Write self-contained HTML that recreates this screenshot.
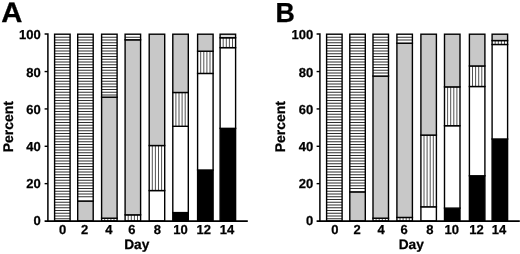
<!DOCTYPE html>
<html><head><meta charset="utf-8"><title>Figure</title>
<style>
html,body{margin:0;padding:0;background:#fff}
svg{display:block}
text{text-rendering:geometricPrecision}
.t{font-family:"Liberation Sans",Arial,Helvetica,sans-serif;font-weight:bold;font-size:13px;fill:#000;stroke:#000;stroke-width:0.25px}
.l{font-size:14px}
.d{font-size:13.7px}
.p{font-family:"Liberation Sans",Arial,Helvetica,sans-serif;font-weight:bold;font-size:28px;fill:#000;stroke:#000;stroke-width:0.3px}
</style></head>
<body>
<svg width="520" height="254" viewBox="0 0 520 254">
<defs><filter id="bl" filterUnits="userSpaceOnUse" x="0" y="0" width="520" height="254"><feGaussianBlur stdDeviation="0 0.28"/></filter></defs>
<rect width="520" height="254" fill="#fff"/>
<g transform="translate(0,0)">
<rect x="54.60" y="34.20" width="15.50" height="186.80" fill="#fff"/>
<path d="M54.60 37.25H70.10M54.60 40.00H70.10M54.60 42.75H70.10M54.60 45.50H70.10M54.60 48.25H70.10M54.60 51.00H70.10M54.60 53.75H70.10M54.60 56.50H70.10M54.60 59.25H70.10M54.60 62.00H70.10M54.60 64.75H70.10M54.60 67.50H70.10M54.60 70.25H70.10M54.60 73.00H70.10M54.60 75.75H70.10M54.60 78.50H70.10M54.60 81.25H70.10M54.60 84.00H70.10M54.60 86.75H70.10M54.60 89.50H70.10M54.60 92.25H70.10M54.60 95.00H70.10M54.60 97.75H70.10M54.60 100.50H70.10M54.60 103.25H70.10M54.60 106.00H70.10M54.60 108.75H70.10M54.60 111.50H70.10M54.60 114.25H70.10M54.60 117.00H70.10M54.60 119.75H70.10M54.60 122.50H70.10M54.60 125.25H70.10M54.60 128.00H70.10M54.60 130.75H70.10M54.60 133.50H70.10M54.60 136.25H70.10M54.60 139.00H70.10M54.60 141.75H70.10M54.60 144.50H70.10M54.60 147.25H70.10M54.60 150.00H70.10M54.60 152.75H70.10M54.60 155.50H70.10M54.60 158.25H70.10M54.60 161.00H70.10M54.60 163.75H70.10M54.60 166.50H70.10M54.60 169.25H70.10M54.60 172.00H70.10M54.60 174.75H70.10M54.60 177.50H70.10M54.60 180.25H70.10M54.60 183.00H70.10M54.60 185.75H70.10M54.60 188.50H70.10M54.60 191.25H70.10M54.60 194.00H70.10M54.60 196.75H70.10M54.60 199.50H70.10M54.60 202.25H70.10M54.60 205.00H70.10M54.60 207.75H70.10M54.60 210.50H70.10M54.60 213.25H70.10M54.60 216.00H70.10M54.60 218.75H70.10" stroke="#000" stroke-width="0.82" fill="none" filter="url(#bl)"/>
<rect x="54.60" y="34.20" width="15.50" height="186.80" fill="none" stroke="#000" stroke-width="1.4"/>
<rect x="77.70" y="201.01" width="15.50" height="19.99" fill="#c8c8c8"/>
<rect x="77.70" y="201.01" width="15.50" height="19.99" fill="none" stroke="#000" stroke-width="1.4"/>
<rect x="77.70" y="34.20" width="15.50" height="166.81" fill="#fff"/>
<path d="M77.70 37.25H93.20M77.70 40.00H93.20M77.70 42.75H93.20M77.70 45.50H93.20M77.70 48.25H93.20M77.70 51.00H93.20M77.70 53.75H93.20M77.70 56.50H93.20M77.70 59.25H93.20M77.70 62.00H93.20M77.70 64.75H93.20M77.70 67.50H93.20M77.70 70.25H93.20M77.70 73.00H93.20M77.70 75.75H93.20M77.70 78.50H93.20M77.70 81.25H93.20M77.70 84.00H93.20M77.70 86.75H93.20M77.70 89.50H93.20M77.70 92.25H93.20M77.70 95.00H93.20M77.70 97.75H93.20M77.70 100.50H93.20M77.70 103.25H93.20M77.70 106.00H93.20M77.70 108.75H93.20M77.70 111.50H93.20M77.70 114.25H93.20M77.70 117.00H93.20M77.70 119.75H93.20M77.70 122.50H93.20M77.70 125.25H93.20M77.70 128.00H93.20M77.70 130.75H93.20M77.70 133.50H93.20M77.70 136.25H93.20M77.70 139.00H93.20M77.70 141.75H93.20M77.70 144.50H93.20M77.70 147.25H93.20M77.70 150.00H93.20M77.70 152.75H93.20M77.70 155.50H93.20M77.70 158.25H93.20M77.70 161.00H93.20M77.70 163.75H93.20M77.70 166.50H93.20M77.70 169.25H93.20M77.70 172.00H93.20M77.70 174.75H93.20M77.70 177.50H93.20M77.70 180.25H93.20M77.70 183.00H93.20M77.70 185.75H93.20M77.70 188.50H93.20M77.70 191.25H93.20M77.70 194.00H93.20M77.70 196.75H93.20" stroke="#000" stroke-width="0.82" fill="none" filter="url(#bl)"/>
<rect x="77.70" y="34.20" width="15.50" height="166.81" fill="none" stroke="#000" stroke-width="1.4"/>
<rect x="101.60" y="218.20" width="15.50" height="2.80" fill="#fff"/>
<path d="M104.70 218.20V221.00M107.80 218.20V221.00M110.90 218.20V221.00M114.00 218.20V221.00" stroke="#000" stroke-width="0.68" fill="none"/>
<rect x="101.60" y="218.20" width="15.50" height="2.80" fill="none" stroke="#000" stroke-width="1.4"/>
<rect x="101.60" y="97.15" width="15.50" height="121.05" fill="#c8c8c8"/>
<rect x="101.60" y="97.15" width="15.50" height="121.05" fill="none" stroke="#000" stroke-width="1.4"/>
<rect x="101.60" y="34.20" width="15.50" height="62.95" fill="#fff"/>
<path d="M101.60 37.25H117.10M101.60 40.00H117.10M101.60 42.75H117.10M101.60 45.50H117.10M101.60 48.25H117.10M101.60 51.00H117.10M101.60 53.75H117.10M101.60 56.50H117.10M101.60 59.25H117.10M101.60 62.00H117.10M101.60 64.75H117.10M101.60 67.50H117.10M101.60 70.25H117.10M101.60 73.00H117.10M101.60 75.75H117.10M101.60 78.50H117.10M101.60 81.25H117.10M101.60 84.00H117.10M101.60 86.75H117.10M101.60 89.50H117.10M101.60 92.25H117.10M101.60 95.00H117.10" stroke="#000" stroke-width="0.82" fill="none" filter="url(#bl)"/>
<rect x="101.60" y="34.20" width="15.50" height="62.95" fill="none" stroke="#000" stroke-width="1.4"/>
<rect x="125.10" y="214.84" width="15.50" height="6.16" fill="#fff"/>
<path d="M128.20 214.84V221.00M131.30 214.84V221.00M134.40 214.84V221.00M137.50 214.84V221.00" stroke="#000" stroke-width="0.68" fill="none"/>
<rect x="125.10" y="214.84" width="15.50" height="6.16" fill="none" stroke="#000" stroke-width="1.4"/>
<rect x="125.10" y="39.80" width="15.50" height="175.03" fill="#c8c8c8"/>
<rect x="125.10" y="39.80" width="15.50" height="175.03" fill="none" stroke="#000" stroke-width="1.4"/>
<rect x="125.10" y="34.20" width="15.50" height="5.60" fill="#fff"/>
<path d="M125.10 37.25H140.60" stroke="#000" stroke-width="0.82" fill="none" filter="url(#bl)"/>
<rect x="125.10" y="34.20" width="15.50" height="5.60" fill="none" stroke="#000" stroke-width="1.4"/>
<rect x="149.20" y="190.55" width="15.50" height="30.45" fill="#fff"/>
<rect x="149.20" y="190.55" width="15.50" height="30.45" fill="none" stroke="#000" stroke-width="1.4"/>
<rect x="149.20" y="145.53" width="15.50" height="45.02" fill="#fff"/>
<path d="M152.30 145.53V190.55M155.40 145.53V190.55M158.50 145.53V190.55M161.60 145.53V190.55" stroke="#000" stroke-width="0.68" fill="none"/>
<rect x="149.20" y="145.53" width="15.50" height="45.02" fill="none" stroke="#000" stroke-width="1.4"/>
<rect x="149.20" y="34.20" width="15.50" height="111.33" fill="#c8c8c8"/>
<rect x="149.20" y="34.20" width="15.50" height="111.33" fill="none" stroke="#000" stroke-width="1.4"/>
<rect x="172.80" y="212.59" width="15.50" height="8.41" fill="#000"/>
<rect x="172.80" y="212.59" width="15.50" height="8.41" fill="none" stroke="#000" stroke-width="1.4"/>
<rect x="172.80" y="126.29" width="15.50" height="86.30" fill="#fff"/>
<rect x="172.80" y="126.29" width="15.50" height="86.30" fill="none" stroke="#000" stroke-width="1.4"/>
<rect x="172.80" y="92.48" width="15.50" height="33.81" fill="#fff"/>
<path d="M175.90 92.48V126.29M179.00 92.48V126.29M182.10 92.48V126.29M185.20 92.48V126.29" stroke="#000" stroke-width="0.68" fill="none"/>
<rect x="172.80" y="92.48" width="15.50" height="33.81" fill="none" stroke="#000" stroke-width="1.4"/>
<rect x="172.80" y="34.20" width="15.50" height="58.28" fill="#c8c8c8"/>
<rect x="172.80" y="34.20" width="15.50" height="58.28" fill="none" stroke="#000" stroke-width="1.4"/>
<rect x="197.60" y="170.00" width="15.50" height="51.00" fill="#000"/>
<rect x="197.60" y="170.00" width="15.50" height="51.00" fill="none" stroke="#000" stroke-width="1.4"/>
<rect x="197.60" y="73.43" width="15.50" height="96.58" fill="#fff"/>
<rect x="197.60" y="73.43" width="15.50" height="96.58" fill="none" stroke="#000" stroke-width="1.4"/>
<rect x="197.60" y="51.20" width="15.50" height="22.23" fill="#fff"/>
<path d="M200.70 51.20V73.43M203.80 51.20V73.43M206.90 51.20V73.43M210.00 51.20V73.43" stroke="#000" stroke-width="0.68" fill="none"/>
<rect x="197.60" y="51.20" width="15.50" height="22.23" fill="none" stroke="#000" stroke-width="1.4"/>
<rect x="197.60" y="34.20" width="15.50" height="17.00" fill="#c8c8c8"/>
<rect x="197.60" y="34.20" width="15.50" height="17.00" fill="none" stroke="#000" stroke-width="1.4"/>
<rect x="220.10" y="128.35" width="15.50" height="92.65" fill="#000"/>
<rect x="220.10" y="128.35" width="15.50" height="92.65" fill="none" stroke="#000" stroke-width="1.4"/>
<rect x="220.10" y="47.65" width="15.50" height="80.70" fill="#fff"/>
<rect x="220.10" y="47.65" width="15.50" height="80.70" fill="none" stroke="#000" stroke-width="1.4"/>
<rect x="220.10" y="37.75" width="15.50" height="9.90" fill="#fff"/>
<path d="M223.20 37.75V47.65M226.30 37.75V47.65M229.40 37.75V47.65M232.50 37.75V47.65" stroke="#000" stroke-width="0.68" fill="none"/>
<rect x="220.10" y="37.75" width="15.50" height="9.90" fill="none" stroke="#000" stroke-width="1.4"/>
<rect x="220.10" y="34.20" width="15.50" height="3.55" fill="#dcdcdc"/>
<rect x="220.10" y="34.20" width="15.50" height="3.55" fill="none" stroke="#000" stroke-width="1.4"/>
<path d="M44.6 34.00H47.9V221.00" fill="none" stroke="#000" stroke-width="1.5"/>
<path d="M44.6 221.10H247.8" fill="none" stroke="#000" stroke-width="1.6"/>
<path d="M44.6 183.64H47.9" stroke="#000" stroke-width="1.4"/>
<path d="M44.6 146.28H47.9" stroke="#000" stroke-width="1.4"/>
<path d="M44.6 108.92H47.9" stroke="#000" stroke-width="1.4"/>
<path d="M44.6 71.56H47.9" stroke="#000" stroke-width="1.4"/>
<text x="40.7" y="225.0" text-anchor="end" class="t">0</text>
<text x="40.7" y="187.8" text-anchor="end" class="t">20</text>
<text x="40.7" y="150.8" text-anchor="end" class="t">40</text>
<text x="40.7" y="113.6" text-anchor="end" class="t">60</text>
<text x="40.7" y="76.6" text-anchor="end" class="t">80</text>
<text x="40.7" y="38.8" text-anchor="end" class="t">100</text>
<text x="62.55" y="233.5" text-anchor="middle" class="t">0</text>
<text x="84.70" y="233.5" text-anchor="middle" class="t">2</text>
<text x="108.85" y="233.5" text-anchor="middle" class="t">4</text>
<text x="131.80" y="233.5" text-anchor="middle" class="t">6</text>
<text x="157.35" y="233.5" text-anchor="middle" class="t">8</text>
<text x="180.60" y="233.5" text-anchor="middle" class="t">10</text>
<text x="203.65" y="233.5" text-anchor="middle" class="t">12</text>
<text x="226.90" y="233.5" text-anchor="middle" class="t">14</text>
<text x="136.8" y="248.9" text-anchor="middle" class="t l d">Day</text>
<text transform="translate(12.5,126.70) rotate(-90)" text-anchor="middle" class="t l">Percent</text>
<text transform="translate(1.2,21.8) scale(1.045,1)" class="p">A</text>
</g>
<g transform="translate(272,0)">
<rect x="54.60" y="34.20" width="15.50" height="186.80" fill="#fff"/>
<path d="M54.60 37.25H70.10M54.60 40.00H70.10M54.60 42.75H70.10M54.60 45.50H70.10M54.60 48.25H70.10M54.60 51.00H70.10M54.60 53.75H70.10M54.60 56.50H70.10M54.60 59.25H70.10M54.60 62.00H70.10M54.60 64.75H70.10M54.60 67.50H70.10M54.60 70.25H70.10M54.60 73.00H70.10M54.60 75.75H70.10M54.60 78.50H70.10M54.60 81.25H70.10M54.60 84.00H70.10M54.60 86.75H70.10M54.60 89.50H70.10M54.60 92.25H70.10M54.60 95.00H70.10M54.60 97.75H70.10M54.60 100.50H70.10M54.60 103.25H70.10M54.60 106.00H70.10M54.60 108.75H70.10M54.60 111.50H70.10M54.60 114.25H70.10M54.60 117.00H70.10M54.60 119.75H70.10M54.60 122.50H70.10M54.60 125.25H70.10M54.60 128.00H70.10M54.60 130.75H70.10M54.60 133.50H70.10M54.60 136.25H70.10M54.60 139.00H70.10M54.60 141.75H70.10M54.60 144.50H70.10M54.60 147.25H70.10M54.60 150.00H70.10M54.60 152.75H70.10M54.60 155.50H70.10M54.60 158.25H70.10M54.60 161.00H70.10M54.60 163.75H70.10M54.60 166.50H70.10M54.60 169.25H70.10M54.60 172.00H70.10M54.60 174.75H70.10M54.60 177.50H70.10M54.60 180.25H70.10M54.60 183.00H70.10M54.60 185.75H70.10M54.60 188.50H70.10M54.60 191.25H70.10M54.60 194.00H70.10M54.60 196.75H70.10M54.60 199.50H70.10M54.60 202.25H70.10M54.60 205.00H70.10M54.60 207.75H70.10M54.60 210.50H70.10M54.60 213.25H70.10M54.60 216.00H70.10M54.60 218.75H70.10" stroke="#000" stroke-width="0.82" fill="none" filter="url(#bl)"/>
<rect x="54.60" y="34.20" width="15.50" height="186.80" fill="none" stroke="#000" stroke-width="1.4"/>
<rect x="77.80" y="191.86" width="15.50" height="29.14" fill="#c8c8c8"/>
<rect x="77.80" y="191.86" width="15.50" height="29.14" fill="none" stroke="#000" stroke-width="1.4"/>
<rect x="77.80" y="34.20" width="15.50" height="157.66" fill="#fff"/>
<path d="M77.80 37.25H93.30M77.80 40.00H93.30M77.80 42.75H93.30M77.80 45.50H93.30M77.80 48.25H93.30M77.80 51.00H93.30M77.80 53.75H93.30M77.80 56.50H93.30M77.80 59.25H93.30M77.80 62.00H93.30M77.80 64.75H93.30M77.80 67.50H93.30M77.80 70.25H93.30M77.80 73.00H93.30M77.80 75.75H93.30M77.80 78.50H93.30M77.80 81.25H93.30M77.80 84.00H93.30M77.80 86.75H93.30M77.80 89.50H93.30M77.80 92.25H93.30M77.80 95.00H93.30M77.80 97.75H93.30M77.80 100.50H93.30M77.80 103.25H93.30M77.80 106.00H93.30M77.80 108.75H93.30M77.80 111.50H93.30M77.80 114.25H93.30M77.80 117.00H93.30M77.80 119.75H93.30M77.80 122.50H93.30M77.80 125.25H93.30M77.80 128.00H93.30M77.80 130.75H93.30M77.80 133.50H93.30M77.80 136.25H93.30M77.80 139.00H93.30M77.80 141.75H93.30M77.80 144.50H93.30M77.80 147.25H93.30M77.80 150.00H93.30M77.80 152.75H93.30M77.80 155.50H93.30M77.80 158.25H93.30M77.80 161.00H93.30M77.80 163.75H93.30M77.80 166.50H93.30M77.80 169.25H93.30M77.80 172.00H93.30M77.80 174.75H93.30M77.80 177.50H93.30M77.80 180.25H93.30M77.80 183.00H93.30M77.80 185.75H93.30M77.80 188.50H93.30" stroke="#000" stroke-width="0.82" fill="none" filter="url(#bl)"/>
<rect x="77.80" y="34.20" width="15.50" height="157.66" fill="none" stroke="#000" stroke-width="1.4"/>
<rect x="101.00" y="218.20" width="15.50" height="2.80" fill="#fff"/>
<path d="M104.10 218.20V221.00M107.20 218.20V221.00M110.30 218.20V221.00M113.40 218.20V221.00" stroke="#000" stroke-width="0.68" fill="none"/>
<rect x="101.00" y="218.20" width="15.50" height="2.80" fill="none" stroke="#000" stroke-width="1.4"/>
<rect x="101.00" y="76.04" width="15.50" height="142.15" fill="#c8c8c8"/>
<rect x="101.00" y="76.04" width="15.50" height="142.15" fill="none" stroke="#000" stroke-width="1.4"/>
<rect x="101.00" y="34.20" width="15.50" height="41.84" fill="#fff"/>
<path d="M101.00 37.25H116.50M101.00 40.00H116.50M101.00 42.75H116.50M101.00 45.50H116.50M101.00 48.25H116.50M101.00 51.00H116.50M101.00 53.75H116.50M101.00 56.50H116.50M101.00 59.25H116.50M101.00 62.00H116.50M101.00 64.75H116.50M101.00 67.50H116.50M101.00 70.25H116.50M101.00 73.00H116.50" stroke="#000" stroke-width="0.82" fill="none" filter="url(#bl)"/>
<rect x="101.00" y="34.20" width="15.50" height="41.84" fill="none" stroke="#000" stroke-width="1.4"/>
<rect x="124.90" y="217.45" width="15.50" height="3.55" fill="#fff"/>
<path d="M128.00 217.45V221.00M131.10 217.45V221.00M134.20 217.45V221.00M137.30 217.45V221.00" stroke="#000" stroke-width="0.68" fill="none"/>
<rect x="124.90" y="217.45" width="15.50" height="3.55" fill="none" stroke="#000" stroke-width="1.4"/>
<rect x="124.90" y="43.17" width="15.50" height="174.28" fill="#c8c8c8"/>
<rect x="124.90" y="43.17" width="15.50" height="174.28" fill="none" stroke="#000" stroke-width="1.4"/>
<rect x="124.90" y="34.20" width="15.50" height="8.97" fill="#fff"/>
<path d="M124.90 37.25H140.40M124.90 40.00H140.40" stroke="#000" stroke-width="0.82" fill="none" filter="url(#bl)"/>
<rect x="124.90" y="34.20" width="15.50" height="8.97" fill="none" stroke="#000" stroke-width="1.4"/>
<rect x="148.90" y="206.80" width="15.50" height="14.20" fill="#fff"/>
<rect x="148.90" y="206.80" width="15.50" height="14.20" fill="none" stroke="#000" stroke-width="1.4"/>
<rect x="148.90" y="135.07" width="15.50" height="71.73" fill="#fff"/>
<path d="M152.00 135.07V206.80M155.10 135.07V206.80M158.20 135.07V206.80M161.30 135.07V206.80" stroke="#000" stroke-width="0.68" fill="none"/>
<rect x="148.90" y="135.07" width="15.50" height="71.73" fill="none" stroke="#000" stroke-width="1.4"/>
<rect x="148.90" y="34.20" width="15.50" height="100.87" fill="#c8c8c8"/>
<rect x="148.90" y="34.20" width="15.50" height="100.87" fill="none" stroke="#000" stroke-width="1.4"/>
<rect x="172.50" y="208.11" width="15.50" height="12.89" fill="#000"/>
<rect x="172.50" y="208.11" width="15.50" height="12.89" fill="none" stroke="#000" stroke-width="1.4"/>
<rect x="172.50" y="125.73" width="15.50" height="82.38" fill="#fff"/>
<rect x="172.50" y="125.73" width="15.50" height="82.38" fill="none" stroke="#000" stroke-width="1.4"/>
<rect x="172.50" y="86.88" width="15.50" height="38.85" fill="#fff"/>
<path d="M175.60 86.88V125.73M178.70 86.88V125.73M181.80 86.88V125.73M184.90 86.88V125.73" stroke="#000" stroke-width="0.68" fill="none"/>
<rect x="172.50" y="86.88" width="15.50" height="38.85" fill="none" stroke="#000" stroke-width="1.4"/>
<rect x="172.50" y="34.20" width="15.50" height="52.68" fill="#c8c8c8"/>
<rect x="172.50" y="34.20" width="15.50" height="52.68" fill="none" stroke="#000" stroke-width="1.4"/>
<rect x="197.40" y="175.79" width="15.50" height="45.21" fill="#000"/>
<rect x="197.40" y="175.79" width="15.50" height="45.21" fill="none" stroke="#000" stroke-width="1.4"/>
<rect x="197.40" y="86.50" width="15.50" height="89.29" fill="#fff"/>
<rect x="197.40" y="86.50" width="15.50" height="89.29" fill="none" stroke="#000" stroke-width="1.4"/>
<rect x="197.40" y="65.96" width="15.50" height="20.55" fill="#fff"/>
<path d="M200.50 65.96V86.50M203.60 65.96V86.50M206.70 65.96V86.50M209.80 65.96V86.50" stroke="#000" stroke-width="0.68" fill="none"/>
<rect x="197.40" y="65.96" width="15.50" height="20.55" fill="none" stroke="#000" stroke-width="1.4"/>
<rect x="197.40" y="34.20" width="15.50" height="31.76" fill="#c8c8c8"/>
<rect x="197.40" y="34.20" width="15.50" height="31.76" fill="none" stroke="#000" stroke-width="1.4"/>
<rect x="220.10" y="138.99" width="15.50" height="82.01" fill="#000"/>
<rect x="220.10" y="138.99" width="15.50" height="82.01" fill="none" stroke="#000" stroke-width="1.4"/>
<rect x="220.10" y="44.47" width="15.50" height="94.52" fill="#fff"/>
<rect x="220.10" y="44.47" width="15.50" height="94.52" fill="none" stroke="#000" stroke-width="1.4"/>
<rect x="220.10" y="40.55" width="15.50" height="3.92" fill="#fff"/>
<path d="M223.20 40.55V44.47M226.30 40.55V44.47M229.40 40.55V44.47M232.50 40.55V44.47" stroke="#000" stroke-width="0.68" fill="none"/>
<rect x="220.10" y="40.55" width="15.50" height="3.92" fill="none" stroke="#000" stroke-width="1.4"/>
<rect x="220.10" y="34.20" width="15.50" height="6.35" fill="#c8c8c8"/>
<rect x="220.10" y="34.20" width="15.50" height="6.35" fill="none" stroke="#000" stroke-width="1.4"/>
<path d="M44.6 34.00H47.9V221.00" fill="none" stroke="#000" stroke-width="1.5"/>
<path d="M44.6 221.10H247.8" fill="none" stroke="#000" stroke-width="1.6"/>
<path d="M44.6 183.64H47.9" stroke="#000" stroke-width="1.4"/>
<path d="M44.6 146.28H47.9" stroke="#000" stroke-width="1.4"/>
<path d="M44.6 108.92H47.9" stroke="#000" stroke-width="1.4"/>
<path d="M44.6 71.56H47.9" stroke="#000" stroke-width="1.4"/>
<text x="41.2" y="225.0" text-anchor="end" class="t">0</text>
<text x="41.2" y="187.8" text-anchor="end" class="t">20</text>
<text x="41.2" y="150.8" text-anchor="end" class="t">40</text>
<text x="41.2" y="113.6" text-anchor="end" class="t">60</text>
<text x="41.2" y="76.6" text-anchor="end" class="t">80</text>
<text x="41.2" y="38.8" text-anchor="end" class="t">100</text>
<text x="62.75" y="233.5" text-anchor="middle" class="t">0</text>
<text x="85.20" y="233.5" text-anchor="middle" class="t">2</text>
<text x="109.05" y="233.5" text-anchor="middle" class="t">4</text>
<text x="132.10" y="233.5" text-anchor="middle" class="t">6</text>
<text x="157.95" y="233.5" text-anchor="middle" class="t">8</text>
<text x="179.80" y="233.5" text-anchor="middle" class="t">10</text>
<text x="204.55" y="233.5" text-anchor="middle" class="t">12</text>
<text x="226.90" y="233.5" text-anchor="middle" class="t">14</text>
<text x="139.3" y="248.9" text-anchor="middle" class="t l d">Day</text>
<text transform="translate(12.5,126.70) rotate(-90)" text-anchor="middle" class="t l">Percent</text>
<text transform="translate(3.5,21.8) scale(0.955,0.98)" class="p">B</text>
</g>
</svg>
</body></html>
